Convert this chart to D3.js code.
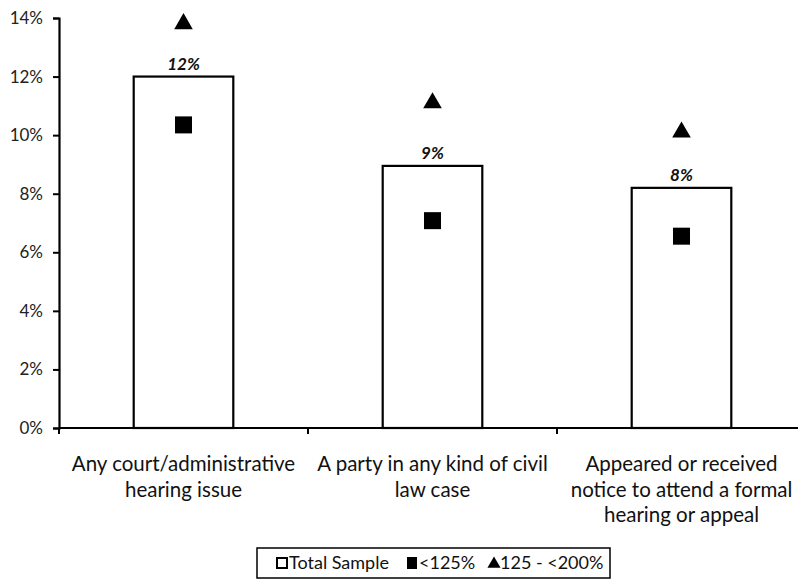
<!DOCTYPE html>
<html><head><meta charset="utf-8">
<script src="https://cdn.jsdelivr.net/npm/d3@7"></script>
<style>body{margin:0;background:#fff;}svg{display:block;}</style>
</head><body>
<svg id="c" width="798" height="579"></svg>
<script>
const categories = [
  ["Any court/administrative", "hearing issue"],
  ["A party in any kind of civil", "law case"],
  ["Appeared or received", "notice to attend a formal", "hearing or appeal"]
];
const catKeys = ["c1","c2","c3"];
const totalSample = [0.12, 0.0895, 0.082];
const totalLabels = ["12%", "9%", "8%"];
const below125 = [0.1035, 0.0708, 0.0655];
const from125to200 = [0.138, 0.111, 0.101];
const yTicks = [0,0.02,0.04,0.06,0.08,0.10,0.12,0.14];
const legendItems = ["Total Sample", "<125%", "125 - <200%"];

const svg = d3.select("#c");
const font = "Lato, 'Open Sans', sans-serif";
const y = d3.scaleLinear().domain([0,0.14]).range([428,18]);
const x = d3.scaleBand().domain(catKeys).range([59, 806]).padding(0);
const bw = x.bandwidth()*0.4;

// y axis
const yAxis = svg.append("g").attr("transform","translate(59,0)")
  .call(d3.axisLeft(y).tickValues(yTicks).tickFormat(d3.format(".0%")).tickSizeOuter(0).tickSize(6).tickPadding(10));
yAxis.select(".domain").attr("stroke","#000").attr("stroke-width",2.2);
yAxis.selectAll(".tick line").attr("stroke","#000").attr("stroke-width",2);
yAxis.selectAll(".tick text").attr("font-family",font).attr("font-size",17).attr("fill","#222");

// bars
svg.append("g").selectAll("rect").data(totalSample).join("rect")
  .attr("x",(d,i)=>x(catKeys[i])+x.bandwidth()/2-bw/2)
  .attr("y",d=>y(d))
  .attr("width",bw)
  .attr("height",d=>y(0)-y(d))
  .attr("fill","#fff").attr("stroke","#000").attr("stroke-width",2.2);

// bar labels
svg.append("g").selectAll("text").data(totalSample).join("text")
  .attr("x",(d,i)=>x(catKeys[i])+x.bandwidth()/2)
  .attr("y",d=>y(d)-7)
  .attr("text-anchor","middle")
  .attr("font-family",font).attr("font-size",17).attr("font-weight","bold").attr("font-style","italic")
  .attr("fill","#111")
  .text((d,i)=>totalLabels[i]);

// squares
const sq = 17;
svg.append("g").selectAll("rect").data(below125).join("rect")
  .attr("x",(d,i)=>x(catKeys[i])+x.bandwidth()/2-sq/2)
  .attr("y",d=>y(d)-sq/2)
  .attr("width",sq).attr("height",sq).attr("fill","#000");

// triangles
const tri = d3.symbol().type(d3.symbolTriangle).size(150);
svg.append("g").selectAll("path").data(from125to200).join("path")
  .attr("transform",(d,i)=>`translate(${x(catKeys[i])+x.bandwidth()/2},${y(d)})`)
  .attr("d",tri).attr("fill","#000");

// x axis
svg.append("line").attr("x1",59).attr("x2",798).attr("y1",y(0)).attr("y2",y(0))
  .attr("stroke","#000").attr("stroke-width",2.2);
svg.append("g").selectAll("line").data(catKeys).join("line")
  .attr("x1",d=>x(d)).attr("x2",d=>x(d)).attr("y1",y(0)).attr("y2",y(0)+6)
  .attr("stroke","#000").attr("stroke-width",2);

// category labels
const cl = svg.append("g").selectAll("text").data(categories).join("text")
  .attr("text-anchor","middle")
  .attr("font-family",font).attr("font-size",20.5).attr("fill","#111");
cl.each(function(lines,i){
  const t = d3.select(this);
  lines.forEach((ln,j)=>{
    t.append("tspan").attr("x",x(catKeys[i])+x.bandwidth()/2).attr("y",471+j*25.5).text(ln);
  });
});

// legend
const lg = svg.append("g");
lg.append("rect").attr("x",257).attr("y",548).attr("width",353).attr("height",30)
  .attr("fill","#fff").attr("stroke","#000").attr("stroke-width",1.5);
const lx = [277, 407, 488];
const ly = 563;
lg.append("rect").attr("x",lx[0]).attr("y",ly-5).attr("width",10).attr("height",10)
  .attr("fill","#fff").attr("stroke","#000").attr("stroke-width",2);
lg.append("rect").attr("x",lx[1]).attr("y",ly-6).attr("width",10).attr("height",12).attr("fill","#000");
lg.append("path").attr("transform",`translate(${lx[2]+6},${ly+1})`)
  .attr("d",d3.symbol().type(d3.symbolTriangle).size(75)).attr("fill","#000");
lg.selectAll("text").data(legendItems).join("text")
  .attr("x",(d,i)=>lx[i]+12).attr("y",ly+6)
  .attr("font-family",font).attr("font-size",18).attr("fill","#111")
  .text(d=>d);
</script>
</body></html>
